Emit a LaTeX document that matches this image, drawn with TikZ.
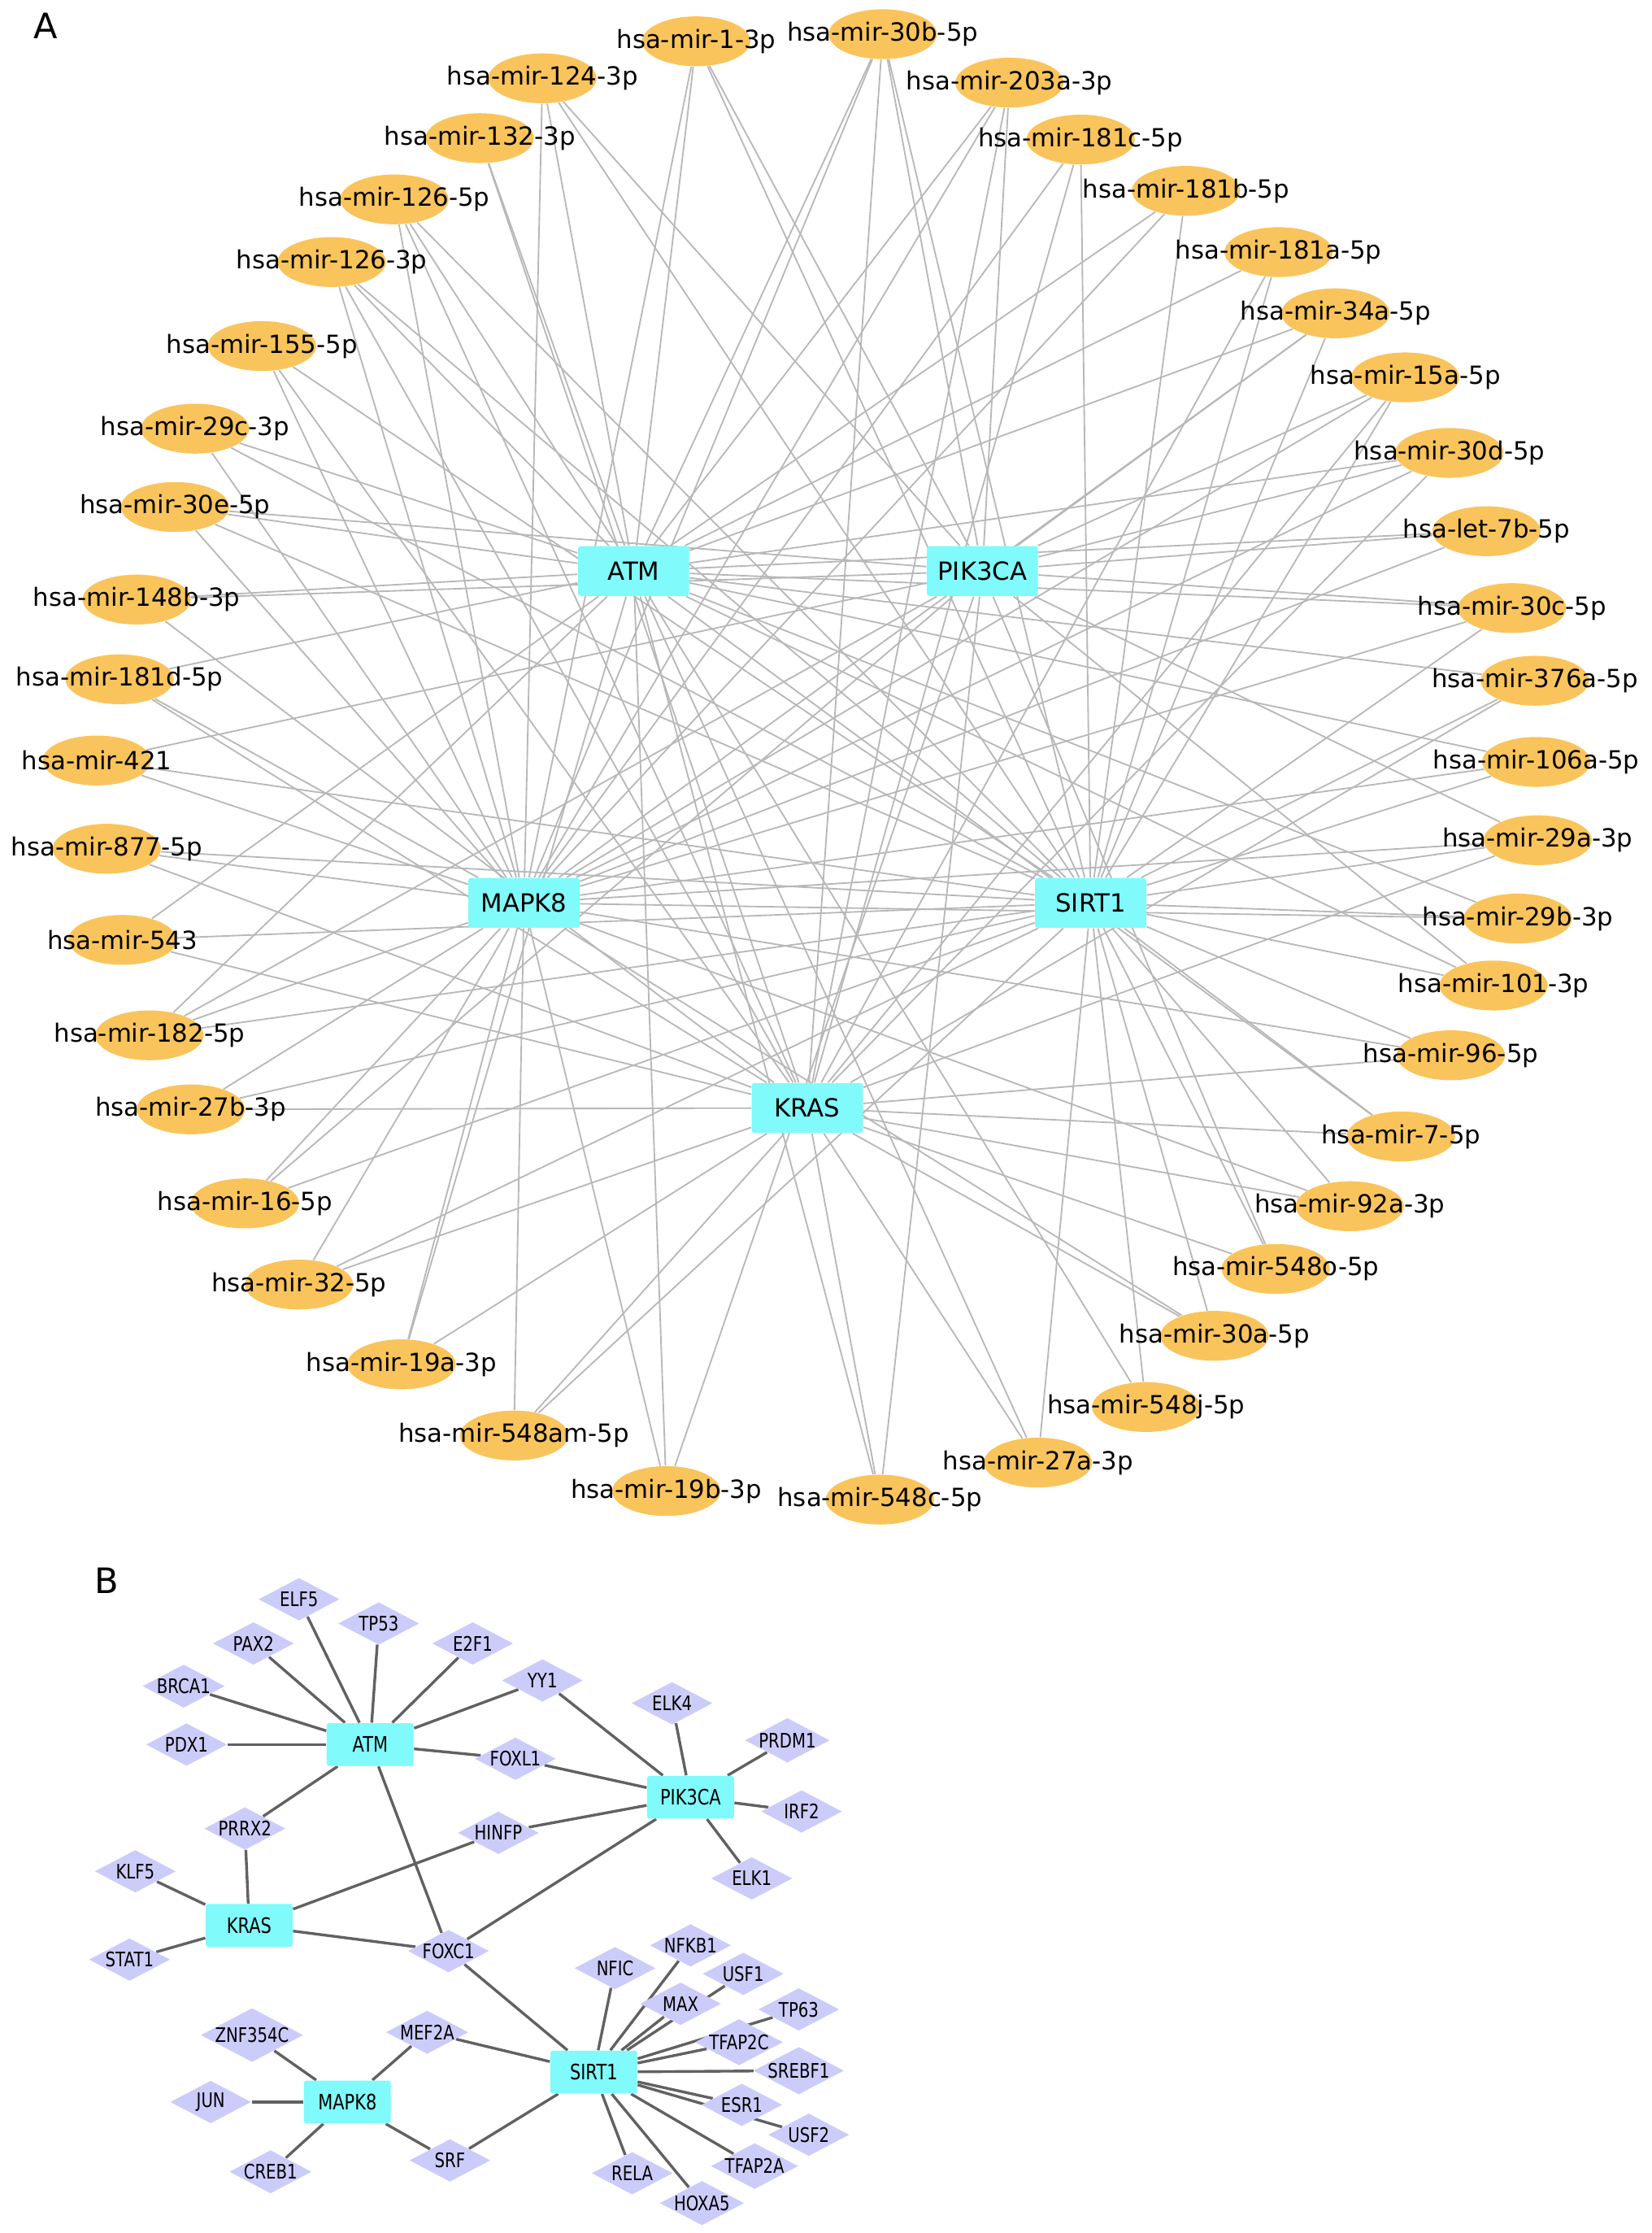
\documentclass[tikz,border=0pt]{standalone}
\usepackage{fontspec}
\setmainfont{DejaVu Sans}
\newfontfamily\narrowfont[FakeStretch=0.8]{DejaVu Sans}
\usetikzlibrary{shapes.geometric,backgrounds}
\definecolor{hubcyan}{RGB}{128,250,250}
\definecolor{mirorange}{RGB}{250,196,92}
\definecolor{tflilac}{RGB}{204,204,250}

\begin{document}
\begin{tikzpicture}[x=0.02cm,y=-0.02cm,
    hub/.style={rectangle, rounded corners=1pt, fill=hubcyan, minimum width=1.56cm, minimum height=0.7cm, inner sep=0pt, font=\fontsize{10}{12}\selectfont},
    smallhub/.style={rectangle, rounded corners=1pt, fill=hubcyan, minimum width=1.22cm, minimum height=0.6cm, inner sep=0pt, font=\narrowfont\fontsize{8.5}{10}\selectfont},
    mirna/.style={ellipse, fill=mirorange, minimum width=1.52cm, minimum height=0.7cm, inner sep=0pt},
    mirtext/.style={font=\fontsize{10}{12}\selectfont, inner sep=0pt},
    tf/.style={diamond, fill=tflilac, shape aspect=1.9, minimum width=1.14cm, minimum height=0.6cm, inner sep=0pt, font=\narrowfont\fontsize{8}{9}\selectfont},
    mirlink/.style={draw=black!28, line width=0.6pt},
    tflink/.style={draw=black!62, line width=1.1pt},
    panel/.style={font=\fontsize{14}{16}\selectfont}]

    \useasboundingbox (0,0) rectangle (1160,1568);

    \node[panel] (labA) at (32,18) {A};
    \node[panel] (labB) at (75,1110) {B};

    % panel A
    \node[hub] (atm) at (445,401) {ATM};
    \node[hub] (pik) at (690,401) {PIK3CA};
    \node[hub] (mapk) at (368,634) {MAPK8};
    \node[hub] (sirt) at (766,634) {SIRT1};
    \node[hub] (kras) at (567,778) {KRAS};

    \foreach \n/\x/\y/\lab in {mir1/489/29/hsa-mir-1-3p, mir30b/620/24/hsa-mir-30b-5p,
        mir203a/709/58/hsa-mir-203a-3p, mir181c/759/98/hsa-mir-181c-5p,
        mir181b/833/134/hsa-mir-181b-5p, mir181a/898/177/hsa-mir-181a-5p,
        mir34a/938/220/hsa-mir-34a-5p, mir15a/987/265/hsa-mir-15a-5p,
        mir30d/1018/318/hsa-mir-30d-5p, let7b/1044/373/hsa-let-7b-5p,
        mir30c/1062/427/hsa-mir-30c-5p, mir376a/1078/478/hsa-mir-376a-5p,
        mir106a/1079/535/hsa-mir-106a-5p, mir29a/1080/590/hsa-mir-29a-3p,
        mir29b/1066/645/hsa-mir-29b-3p, mir101/1049/692/hsa-mir-101-3p,
        mir96/1019/741/hsa-mir-96-5p, mir7/984/798/hsa-mir-7-5p,
        mir92a/948/847/hsa-mir-92a-3p, mir548o/896/891/hsa-mir-548o-5p,
        mir30a/853/938/hsa-mir-30a-5p, mir548j/805/988/hsa-mir-548j-5p,
        mir27a/729/1027/hsa-mir-27a-3p, mir548c/618/1053/hsa-mir-548c-5p,
        mir19b/468/1047/hsa-mir-19b-3p, mir548am/361/1008/hsa-mir-548am-5p,
        mir19a/282/958/hsa-mir-19a-3p, mir32/210/902/hsa-mir-32-5p,
        mir16/172/845/hsa-mir-16-5p, mir27b/134/779/hsa-mir-27b-3p,
        mir182/105/727/hsa-mir-182-5p, mir543/86/660/hsa-mir-543,
        mir877/75/596/hsa-mir-877-5p, mir421/68/534/hsa-mir-421,
        mir181d/84/477/hsa-mir-181d-5p, mir148b/96/421/hsa-mir-148b-3p,
        mir30e/123/356/hsa-mir-30e-5p, mir29c/137/301/hsa-mir-29c-3p,
        mir155/184/243/hsa-mir-155-5p, mir126pthree/233/184/hsa-mir-126-3p,
        mir126pfive/277/140/hsa-mir-126-5p, mir132/337/97/hsa-mir-132-3p,
        mir124/381/55/hsa-mir-124-3p}
        \node[mirna, label={[mirtext]center:\lab}] (\n) at (\x,\y) {};

    % panel B
    \node[smallhub] (atm2) at (260,1225) {ATM};
    \node[smallhub] (pik2) at (485,1262) {PIK3CA};
    \node[smallhub] (kras2) at (175,1352) {KRAS};
    \node[smallhub] (sirt2) at (417,1455) {SIRT1};
    \node[smallhub] (mapk2) at (244,1476) {MAPK8};

    \foreach \n/\x/\y in {ELF5/210/1123, TP53/266/1140, PAX2/178/1154, E2F1/332/1154,
        BRCA1/129/1184, YY1/381/1180, ELK4/472/1196, PDX1/131/1225, PRDM1/553/1222,
        FOXL1/362/1235, IRF2/563/1272, PRRX2/172/1284, HINFP/350/1287, KLF5/95/1314,
        ELK1/528/1319, STAT1/91/1376, FOXC1/315/1370, NFKB1/485/1366, NFIC/432/1382,
        USF1/522/1386, MAX/478/1407, TP63/561/1411, ZNF354C/177/1429, MEF2A/300/1427,
        TFAP2C/519/1434, SREBF1/561/1454, JUN/148/1476, ESR1/521/1478, USF2/568/1499,
        SRF/316/1517, CREB1/190/1525, TFAP2A/530/1521, RELA/444/1526, HOXA5/493/1547}
        \node[tf] (tf\n) at (\x,\y) {\n};

    \begin{scope}[on background layer]
        \foreach \m/\g in {mir1/mapk, mir1/atm, mir1/pik, mir1/sirt,
            mir30b/atm, mir30b/mapk, mir30b/kras, mir30b/pik, mir30b/sirt,
            mir203a/atm, mir203a/mapk, mir203a/kras, mir203a/pik,
            mir181c/mapk, mir181c/kras, mir181c/sirt,
            mir181b/atm, mir181b/mapk, mir181b/sirt,
            mir181a/atm, mir181a/kras, mir181a/sirt,
            mir34a/atm, mir34a/pik, mir34a/mapk, mir34a/sirt,
            mir15a/pik, mir15a/mapk, mir15a/kras, mir15a/sirt,
            mir30d/atm, mir30d/pik, mir30d/mapk, mir30d/kras,
            let7b/atm, let7b/pik, let7b/mapk,
            mir30c/atm, mir30c/pik, mir30c/mapk, mir30c/sirt,
            mir376a/atm, mir376a/kras, mir376a/sirt,
            mir106a/atm, mir106a/mapk, mir106a/sirt,
            mir29a/pik, mir29a/mapk, mir29a/sirt, mir29a/kras,
            mir29b/atm, mir29b/mapk, mir29b/sirt,
            mir101/atm, mir101/pik, mir101/sirt,
            mir96/mapk, mir96/sirt, mir96/kras,
            mir7/atm, mir7/sirt, mir7/kras,
            mir92a/mapk, mir92a/sirt, mir92a/kras,
            mir548o/pik, mir548o/sirt, mir548o/kras,
            mir30a/mapk, mir30a/kras, mir30a/sirt,
            mir548j/atm, mir548j/sirt,
            mir27a/atm, mir27a/kras, mir27a/sirt,
            mir548c/atm, mir548c/kras, mir548c/pik,
            mir19b/mapk, mir19b/atm, mir19b/pik,
            mir548am/mapk, mir548am/kras, mir548am/sirt,
            mir19a/mapk, mir19a/atm, mir19a/kras,
            mir32/mapk, mir32/kras, mir32/sirt,
            mir16/mapk, mir16/pik, mir16/sirt,
            mir27b/mapk, mir27b/kras, mir27b/sirt,
            mir182/atm, mir182/pik, mir182/mapk, mir182/sirt,
            mir543/atm, mir543/sirt, mir543/kras,
            mir877/mapk, mir877/sirt, mir877/kras,
            mir421/pik, mir421/mapk, mir421/sirt,
            mir181d/atm, mir181d/mapk, mir181d/kras,
            mir148b/atm, mir148b/pik, mir148b/kras,
            mir30e/atm, mir30e/pik, mir30e/mapk, mir30e/sirt,
            mir29c/mapk, mir29c/atm, mir29c/sirt,
            mir155/mapk, mir155/kras, mir155/sirt,
            mir126pthree/atm, mir126pthree/mapk, mir126pthree/kras, mir126pthree/sirt,
            mir126pfive/mapk, mir126pfive/atm, mir126pfive/kras, mir126pfive/sirt,
            mir132/atm, mir132/kras,
            mir124/mapk, mir124/atm, mir124/pik, mir124/sirt}
            \draw[mirlink] (\m) -- (\g);

        \foreach \h/\t in {atm2/ELF5, atm2/TP53, atm2/PAX2, atm2/E2F1, atm2/BRCA1, atm2/YY1,
            atm2/PDX1, atm2/FOXL1, atm2/PRRX2, atm2/FOXC1,
            pik2/YY1, pik2/ELK4, pik2/PRDM1, pik2/IRF2, pik2/ELK1, pik2/FOXL1, pik2/HINFP, pik2/FOXC1,
            kras2/KLF5, kras2/STAT1, kras2/PRRX2, kras2/HINFP, kras2/FOXC1,
            sirt2/FOXC1, sirt2/NFIC, sirt2/NFKB1, sirt2/USF1, sirt2/MAX, sirt2/TP63, sirt2/TFAP2C,
            sirt2/SREBF1, sirt2/ESR1, sirt2/USF2, sirt2/TFAP2A, sirt2/HOXA5, sirt2/RELA,
            sirt2/SRF, sirt2/MEF2A,
            mapk2/ZNF354C, mapk2/MEF2A, mapk2/JUN, mapk2/CREB1, mapk2/SRF}
            \draw[tflink] (\h) -- (tf\t);
    \end{scope}

\end{tikzpicture}
\end{document}
